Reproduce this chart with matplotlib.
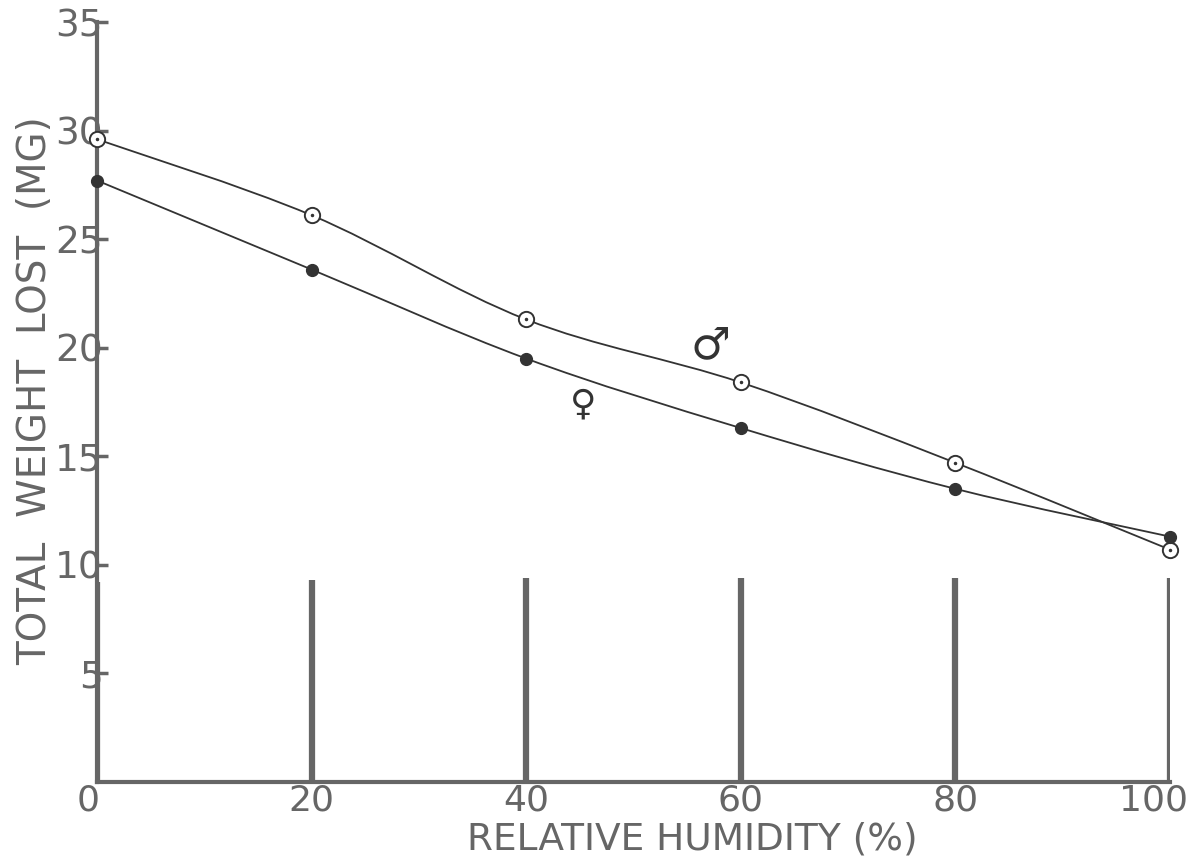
"""
Total weight lost vs relative humidity, males and females
"""
import matplotlib
matplotlib.use("Agg")
import matplotlib.pyplot as plt
import matplotlib.transforms as mtrans
from matplotlib.path import Path
from matplotlib.patches import PathPatch

humidity = [0, 20, 40, 60, 80, 100]
male_loss = [29.6, 26.1, 21.3, 18.4, 14.7, 10.7]
female_loss = [27.7, 23.6, 19.5, 16.3, 13.5, 11.3]
bar_heights = [9.2, 9.3, 9.4, 9.4, 9.4, 9.4]

x_ticks = [0, 20, 40, 60, 80, 100]
x_ticklabels = ["0", "20", "40", "60", "80", "100"]
y_ticks = [5, 10, 15, 20, 25, 30, 35]
y_ticklabels = ["5", "10", "15", "20", "25", "30", "35"]

AXIS_GREY = "#666666"
INK = "#333333"


def smooth_path(xs, ys):
    """Catmull-Rom through the points, expressed as cubic Bezier segments."""
    pts = list(zip(xs, ys))
    verts = [pts[0]]
    codes = [Path.MOVETO]
    n = len(pts)
    for i in range(n - 1):
        p0 = pts[i - 1] if i > 0 else pts[i]
        p1 = pts[i]
        p2 = pts[i + 1]
        p3 = pts[i + 2] if i + 2 < n else pts[i + 1]
        c1 = (p1[0] + (p2[0] - p0[0]) / 6, p1[1] + (p2[1] - p0[1]) / 6)
        c2 = (p2[0] - (p3[0] - p1[0]) / 6, p2[1] - (p3[1] - p1[1]) / 6)
        verts += [c1, c2, p2]
        codes += [Path.CURVE4] * 3
    return Path(verts, codes)


fig = plt.figure(figsize=(11.92, 8.63), dpi=100)
ax = fig.add_axes([0.0814, 0.0939, 0.9001, 0.8806])
ax.set_xlim(0, 100)
ax.set_ylim(0, 35)

# thick vertical bars at each humidity level
ax.vlines(humidity, 0, bar_heights, color=AXIS_GREY, lw=4.5, zorder=2)

# smoothed curves
for ys in (male_loss, female_loss):
    ax.add_patch(PathPatch(smooth_path(humidity, ys), fill=False,
                           ec=INK, lw=1.3, zorder=3, clip_on=False))

ax.plot(humidity, male_loss, ls="none", marker="o", ms=11, mfc="white",
        mec=INK, mew=1.4, zorder=4, clip_on=False)
ax.plot(humidity, male_loss, ls="none", marker=".", ms=3, color=INK,
        zorder=5, clip_on=False)
ax.plot(humidity, female_loss, ls="none", marker="o", ms=8.5, color=INK,
        zorder=4, clip_on=False)

ax.text(57.2, 20.1, "♂", fontsize=32, color=INK, ha="center", va="center")
ax.text(45.3, 17.4, "♀", fontsize=26, color=INK, ha="center", va="center")

for side in ("top", "right"):
    ax.spines[side].set_visible(False)
for side in ("left", "bottom"):
    ax.spines[side].set_color(AXIS_GREY)
    ax.spines[side].set_linewidth(3)

ax.set_xticks(x_ticks)
ax.set_xticklabels(x_ticklabels)
ax.set_yticks(y_ticks)
ax.set_yticklabels(y_ticklabels)
ax.tick_params(axis="y", direction="in", length=8, width=2.5, color=AXIS_GREY,
               pad=-4, labelsize=27, labelcolor=AXIS_GREY)
ax.tick_params(axis="x", length=0, pad=1, labelsize=26, labelcolor=AXIS_GREY)

# nudge the end labels of the x axis inward a little
xlabels = ax.get_xticklabels()
xlabels[0].set_transform(xlabels[0].get_transform() +
                         mtrans.ScaledTranslation(-0.09, 0, fig.dpi_scale_trans))
xlabels[-1].set_transform(xlabels[-1].get_transform() +
                          mtrans.ScaledTranslation(-0.16, 0, fig.dpi_scale_trans))

ax.set_xlabel("RELATIVE HUMIDITY (%)", fontsize=27, color=AXIS_GREY)
ax.xaxis.set_label_coords(0.555, -0.052)
ax.xaxis.label.set_va("top")
ax.set_ylabel("TOTAL  WEIGHT  LOST  (MG)", fontsize=28, color=AXIS_GREY)
ax.yaxis.set_label_coords(-0.040, 0.515)

plt.savefig("out.png", dpi=100, facecolor="white")
plt.close()
